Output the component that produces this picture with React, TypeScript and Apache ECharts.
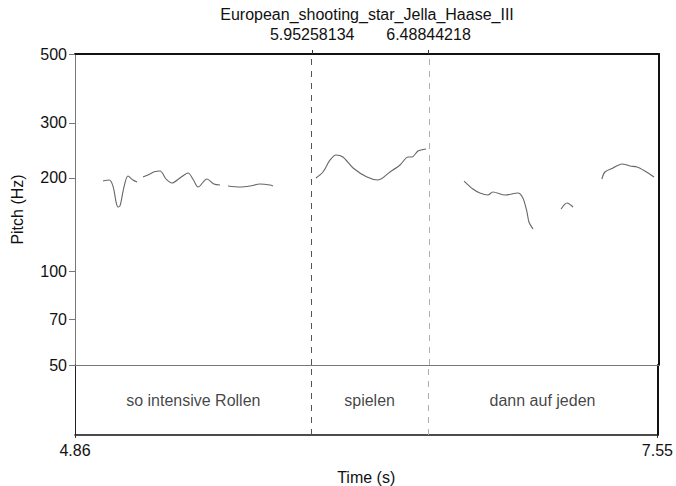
import React, { useEffect, useRef } from "react";
import * as echarts from "echarts";

const titleText = "European_shooting_star_Jella_Haase_III";
const tMin = 4.86;
const tMax = 7.55;
const boundaries = [5.95258134, 6.48844218];
const yTicks = [50, 70, 100, 200, 300, 500];
const words = ["so intensive Rollen", "spielen", "dann auf jeden"];
const wordIntervals = [
  [4.86, 5.95258134],
  [5.95258134, 6.48844218],
  [6.48844218, 7.55],
];

// pitch contour segments: [time (s), pitch (Hz)]
const seg1 = [
  [4.989, 195.2], [5.017, 196.7], [5.035, 188], [5.05, 166], [5.058, 161.1],
  [5.068, 163], [5.085, 186], [5.104, 202.6], [5.127, 196.7], [5.146, 193.8],
];
const seg2 = [
  [5.173, 201.1], [5.196, 204.1], [5.225, 209], [5.252, 210.2], [5.28, 198],
  [5.307, 192.4], [5.345, 200], [5.381, 207.2], [5.405, 197], [5.427, 186.7],
  [5.468, 198.2], [5.5, 191], [5.528, 189.5],
];
const seg3 = [
  [5.565, 188.1], [5.62, 186.7], [5.666, 188.1], [5.712, 190.9], [5.758, 189.5],
  [5.772, 188.1],
];
const seg4 = [
  [5.97, 199.6], [6.002, 208.7], [6.035, 228.2], [6.062, 236.7], [6.094, 233.2],
  [6.141, 215.0], [6.205, 201.1], [6.256, 196.7], [6.311, 208.7], [6.357, 219.8],
  [6.394, 233.2], [6.412, 233.2], [6.44, 243.8], [6.477, 247.5],
];
const seg5 = [
  [6.652, 195.2], [6.693, 184.0], [6.725, 178.7], [6.762, 176.0], [6.785, 180.0],
  [6.841, 176.0], [6.9, 178.7], [6.923, 172.2], [6.942, 155.2], [6.951, 144.1],
  [6.97, 136.8],
];
const seg6 = [[7.099, 158.7], [7.126, 166.0], [7.154, 161.1]];
const seg7 = [
  [7.287, 198.2], [7.301, 208.7], [7.338, 215.0], [7.38, 221.5], [7.416, 218.2],
  [7.449, 216.6], [7.485, 210.2], [7.527, 201.1],
];
const segments = [seg1, seg2, seg3, seg4, seg5, seg6, seg7];

const FONT = "'Liberation Sans', Arial, sans-serif";

export default function App() {
  const ref = useRef<HTMLDivElement>(null);
  useEffect(() => {
    document.body.style.margin = "0";
    const chart = echarts.init(ref.current!, null, { renderer: "svg" });
    const boundaryMarkLine = {
      silent: true,
      symbol: "none",
      label: { show: false },
      lineStyle: { type: [6, 6], width: 1 },
      data: [
        { xAxis: boundaries[0], lineStyle: { color: "#555" } },
        { xAxis: boundaries[1], lineStyle: { color: "#b0b0b0" } },
      ],
    };
    const pitchSeries = segments.map((seg, i) => ({
      type: "line",
      xAxisIndex: 0,
      yAxisIndex: 0,
      data: seg,
      showSymbol: false,
      smooth: 0.3,
      lineStyle: { color: "#666", width: 1.1 },
      markLine: i === 0 ? boundaryMarkLine : undefined,
    }));
    const option = {
      animation: false,
      textStyle: { fontFamily: FONT },
      graphic: [
        {
          type: "text",
          x: 367,
          y: 14,
          style: {
            text: titleText,
            fontFamily: FONT,
            fontSize: 16,
            fill: "#111",
            textAlign: "center",
            textVerticalAlign: "middle",
          },
        },
      ],
      grid: [
        { left: 75, right: 17, top: 54, height: 311, show: false },
        { left: 75, right: 17, top: 365, height: 79, show: false },
      ],
      xAxis: [
        {
          gridIndex: 0,
          type: "value",
          position: "bottom",
          min: tMin,
          max: tMax,
          axisLine: { show: true, onZero: false, lineStyle: { color: "#777", width: 1 } },
          axisTick: { show: false },
          axisLabel: { show: false },
          splitLine: { show: false },
        },
        {
          gridIndex: 0,
          type: "value",
          position: "top",
          min: tMin,
          max: tMax,
          axisLine: { show: true, onZero: false, lineStyle: { color: "#111", width: 2 } },
          axisTick: {
            show: true,
            length: 4,
            customValues: boundaries,
            lineStyle: { color: "#333" },
          },
          axisLabel: {
            show: true,
            customValues: boundaries,
            margin: 12,
            fontSize: 16,
            color: "#111",
            fontFamily: FONT,
            formatter: (v: number) => v.toFixed(8),
          },
          splitLine: { show: false },
        },
        {
          gridIndex: 1,
          type: "value",
          position: "bottom",
          min: tMin,
          max: tMax,
          name: "Time (s)",
          nameLocation: "middle",
          nameGap: 34,
          nameTextStyle: { fontSize: 16, color: "#111", fontFamily: FONT },
          axisLine: { show: true, onZero: false, lineStyle: { color: "#111", width: 1.5 } },
          axisTick: {
            show: true,
            length: 3,
            customValues: [tMin, tMax],
            lineStyle: { color: "#333" },
          },
          axisLabel: {
            show: true,
            customValues: [tMin, tMax],
            margin: 7,
            fontSize: 16,
            color: "#111",
            fontFamily: FONT,
            formatter: (v: number) => v.toFixed(2),
          },
          splitLine: { show: false },
        },
      ],
      yAxis: [
        {
          gridIndex: 0,
          type: "log",
          logBase: 10,
          min: 50,
          max: 500,
          position: "left",
          name: "Pitch (Hz)",
          nameLocation: "middle",
          nameGap: 50,
          nameRotate: 90,
          nameTextStyle: { fontSize: 16, color: "#111", fontFamily: FONT },
          axisLine: { show: true, onZero: false, lineStyle: { color: "#777", width: 1 } },
          axisTick: {
            show: true,
            length: 6,
            customValues: yTicks,
            lineStyle: { color: "#777" },
          },
          axisLabel: {
            show: true,
            customValues: yTicks,
            margin: 8,
            fontSize: 16,
            color: "#111",
            fontFamily: FONT,
          },
          minorTick: { show: false },
          splitLine: { show: false },
        },
        {
          gridIndex: 0,
          type: "log",
          logBase: 10,
          min: 50,
          max: 500,
          position: "right",
          axisLine: { show: true, onZero: false, lineStyle: { color: "#111", width: 2 } },
          axisTick: { show: false },
          axisLabel: { show: false },
          splitLine: { show: false },
        },
        {
          gridIndex: 1,
          type: "value",
          min: 0,
          max: 1,
          position: "left",
          axisLine: { show: true, onZero: false, lineStyle: { color: "#222", width: 1 } },
          axisTick: { show: false },
          axisLabel: { show: false },
          splitLine: { show: false },
        },
        {
          gridIndex: 1,
          type: "value",
          min: 0,
          max: 1,
          position: "right",
          axisLine: { show: true, onZero: false, lineStyle: { color: "#111", width: 2 } },
          axisTick: { show: false },
          axisLabel: { show: false },
          splitLine: { show: false },
        },
      ],
      series: [
        ...pitchSeries,
        {
          type: "scatter",
          xAxisIndex: 2,
          yAxisIndex: 2,
          symbolSize: 0,
          data: words.map((w, i) => ({
            value: [(wordIntervals[i][0] + wordIntervals[i][1]) / 2, 0.5],
            name: w,
          })),
          label: {
            show: true,
            position: "inside",
            formatter: (p: any) => p.name,
            fontSize: 16,
            color: "#111",
            fontFamily: FONT,
          },
          markLine: boundaryMarkLine,
        },
      ],
    };
    chart.setOption(option as any);
    return () => chart.dispose();
  }, []);
  return <div ref={ref} style={{ width: 676, height: 486 }} />;
}
